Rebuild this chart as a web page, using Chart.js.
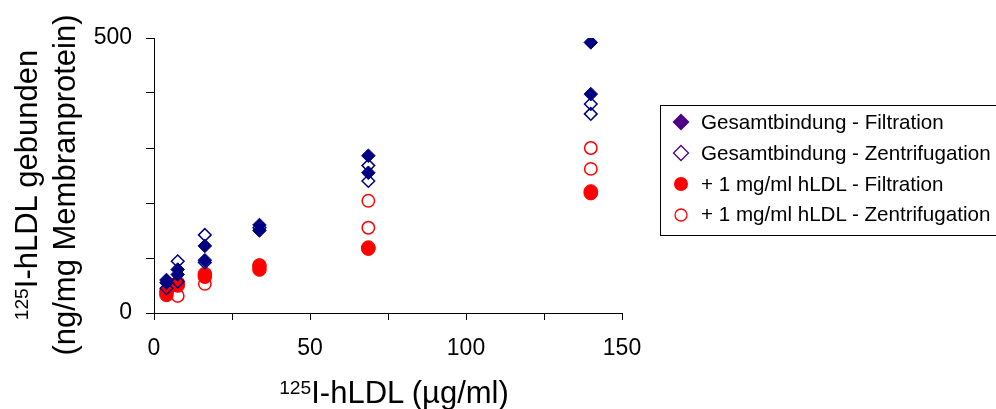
<!DOCTYPE html>
<html>
<head>
<meta charset="utf-8">
<script src="https://cdn.jsdelivr.net/npm/chart.js@4.4.1/dist/chart.umd.min.js"></script>
<style>
  body { margin: 0; background: #fff; overflow: hidden; }
  #wrap { position: relative; width: 996px; height: 409px; overflow: hidden; font-family: "Liberation Sans", Arial, sans-serif; color: #000; }
  #bindingChart { position: absolute; left: 0; top: 0; }
  .ytitle { position: absolute; left: 46px; top: 185px; width: 440px; transform: translate(-50%, -50%) rotate(-90deg); text-align: center; font-size: 31px; line-height: 34px; white-space: nowrap; }
  .xtitle { position: absolute; left: 394px; top: 377px; transform: translateX(-50%); font-size: 31px; line-height: 31px; white-space: nowrap; }
  .sup { font-size: 62%; position: relative; top: -0.45em; }
  #legend { position: absolute; left: 660px; top: 105px; width: 345px; height: 131px; border: 1px solid #000; box-sizing: border-box; padding-top: 1px; }
  .row { height: 30.8px; line-height: 30.8px; font-size: 20.6px; white-space: nowrap; position: relative; }
  .row svg { position: absolute; left: 11px; top: 6.4px; }
  .row span { position: absolute; left: 40px; top: 0; }
</style>
</head>
<body>
<div id="wrap">
  <canvas id="bindingChart" width="996" height="409"></canvas>
  <div class="ytitle"><span class="sup">125</span>I-hLDL gebunden<br>(ng/mg Membranprotein)</div>
  <div class="xtitle"><span class="sup">125</span>I-hLDL (µg/ml)</div>
  <div id="legend"></div>
</div>
<script>
// series (x = µg/ml, y = ng/mg)
const gfX = [4, 4, 7.6, 7.6, 16.3, 16.3, 33.8, 33.8, 68.7, 68.7, 140, 140];
const gfY = [60, 55, 79, 70, 122, 96, 160, 150, 286, 255, 492, 398];

const gzX = [4, 7.6, 7.6, 16.3, 16.3, 33.8, 68.7, 68.7, 140, 140];
const gzY = [45, 94, 57, 142, 92, 155, 268, 240, 380, 362];

const rfX = [4, 4, 7.6, 7.6, 16.3, 16.3, 33.8, 33.8, 68.7, 68.7, 140, 140];
const rfY = [39, 33, 55, 50, 71, 66, 86, 79, 119, 117, 221, 218];

const rzX = [4, 7.6, 16.3, 33.8, 68.7, 68.7, 140, 140];
const rzY = [37, 31, 53, 87, 204, 155, 300, 262];

const seriesNames = [
    "Gesamtbindung - Filtration",
    "Gesamtbindung - Zentrifugation",
    "+ 1 mg/ml hLDL - Filtration",
    "+ 1 mg/ml hLDL - Zentrifugation"
];
const xTickLabels = [0, 50, 100, 150];
const yTickLabels = [0, 500];

const navy = "#000080";
const red = "#ff0000";
const tickFont = { family: "'Liberation Sans', Arial, sans-serif", size: 23 };

function toPoints(xs, ys) {
    return xs.map((x, i) => ({ x: x, y: ys[i] }));
}

function fixAxis(size, prop) {
    return function (scale) {
        scale[prop] = size;
        scale.paddingLeft = 0;
        scale.paddingRight = 0;
        scale.paddingTop = 0;
        scale.paddingBottom = 0;
    };
}

const ctx = document.getElementById("bindingChart").getContext("2d");
const chart = new Chart(ctx, {
    type: "scatter",
    data: {
        datasets: [
            { label: seriesNames[0], data: toPoints(gfX, gfY), pointStyle: "rectRot", pointRadius: 6.8,
              backgroundColor: navy, borderColor: navy, borderWidth: 1 },
            { label: seriesNames[1], data: toPoints(gzX, gzY), pointStyle: "rectRot", pointRadius: 6.3,
              backgroundColor: "rgba(0,0,0,0)", borderColor: navy, borderWidth: 1.5 },
            { label: seriesNames[2], data: toPoints(rfX, rfY), pointStyle: "circle", pointRadius: 6.8,
              backgroundColor: red, borderColor: red, borderWidth: 1 },
            { label: seriesNames[3], data: toPoints(rzX, rzY), pointStyle: "circle", pointRadius: 6.2,
              backgroundColor: "rgba(0,0,0,0)", borderColor: red, borderWidth: 1.5 }
        ]
    },
    options: {
        responsive: false,
        animation: false,
        devicePixelRatio: 1,
        layout: { padding: { left: 74, right: 374, top: 38, bottom: 36 } },
        plugins: {
            legend: { display: false },
            tooltip: { enabled: false }
        },
        scales: {
            x: {
                type: "linear",
                min: 0,
                max: 150,
                afterFit: fixAxis(60, "height"),
                border: { display: true, color: "#000", width: 1 },
                grid: { drawOnChartArea: false, drawTicks: true, tickLength: 7, color: "#000" },
                ticks: {
                    stepSize: 25,
                    autoSkip: false,
                    maxRotation: 0,
                    padding: 15,
                    color: "#000",
                    font: tickFont,
                    callback: v => xTickLabels.includes(v) ? v : ""
                }
            },
            y: {
                type: "linear",
                min: 0,
                max: 500,
                afterFit: fixAxis(80, "width"),
                border: { display: true, color: "#000", width: 1 },
                grid: { drawOnChartArea: false, drawTicks: true, tickLength: 8, color: "#000" },
                ticks: {
                    stepSize: 100,
                    autoSkip: false,
                    padding: 14,
                    color: "#000",
                    font: tickFont,
                    callback: v => yTickLabels.includes(v) ? v : ""
                }
            }
        }
    }
});

// legend box (markers as in the original Excel legend)
const legendMarkers = [
    '<polygon points="9,0.5 17.5,9 9,17.5 0.5,9" fill="#4b0087"/>',
    '<polygon points="9,1.5 16.5,9 9,16.5 1.5,9" fill="none" stroke="#4b0087" stroke-width="1.3"/>',
    '<circle cx="9" cy="9" r="7" fill="#ff0000"/>',
    '<circle cx="9" cy="9" r="6" fill="none" stroke="#ff0000" stroke-width="1.3"/>'
];
const legendEl = document.getElementById("legend");
seriesNames.forEach((name, i) => {
    const row = document.createElement("div");
    row.className = "row";
    row.innerHTML = '<svg width="18" height="18" viewBox="0 0 18 18">' + legendMarkers[i] + '</svg><span></span>';
    row.querySelector("span").textContent = name;
    legendEl.appendChild(row);
});
</script>
</body>
</html>
